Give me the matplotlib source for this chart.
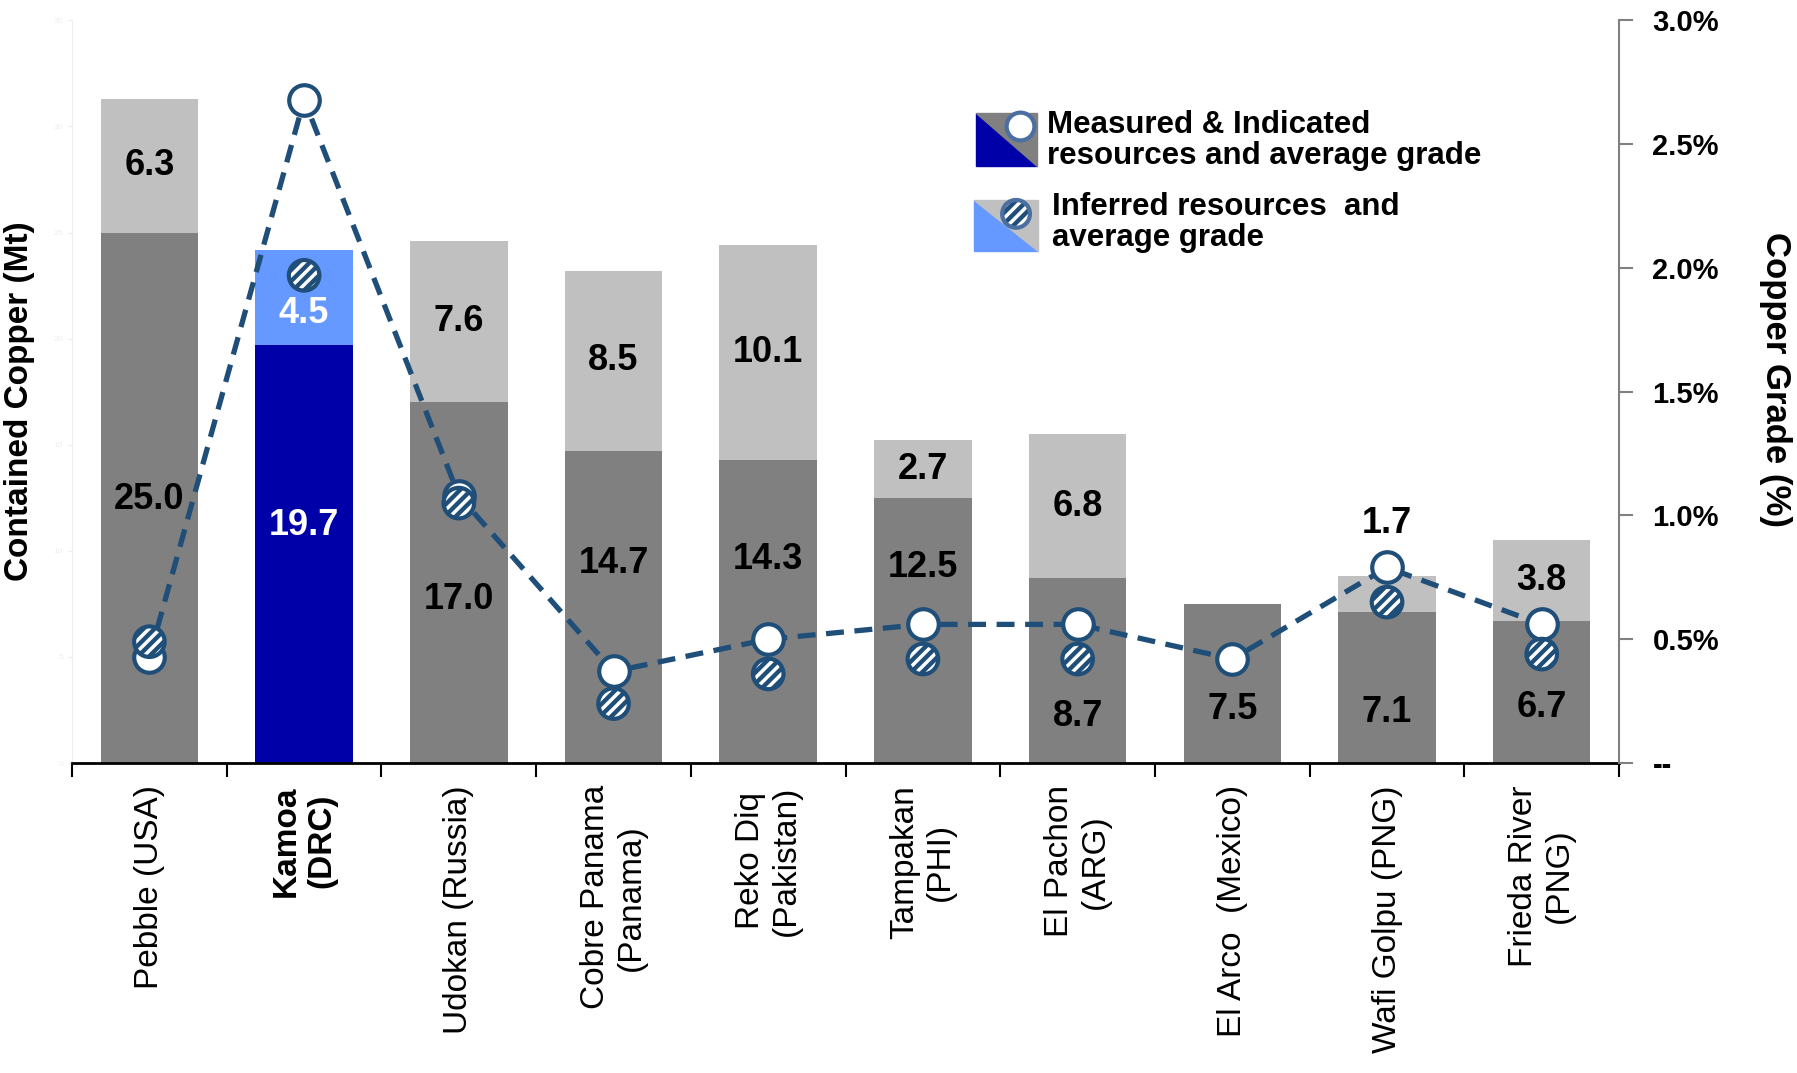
import numpy as np
import matplotlib
matplotlib.use("Agg")
import matplotlib.pyplot as plt
from matplotlib.patches import Polygon

plt.rcParams['font.family'] = ['Liberation Sans', 'DejaVu Sans']
plt.rcParams['hatch.linewidth'] = 2.5
plt.rcParams['hatch.color'] = 'white'

projects = ["Pebble (USA)", "Kamoa\n(DRC)", "Udokan (Russia)", "Cobre Panama\n(Panama)",
            "Reko Diq\n(Pakistan)", "Tampakan\n(PHI)", "El Pachon\n(ARG)", "El Arco  (Mexico)",
            "Wafi Golpu (PNG)", "Frieda River\n(PNG)"]
mi_copper = [25.0, 19.7, 17.0, 14.7, 14.3, 12.5, 8.7, 7.5, 7.1, 6.7]
inf_copper = [6.3, 4.5, 7.6, 8.5, 10.1, 2.7, 6.8, 0.0, 1.7, 3.8]
mi_grade = [0.43, 2.68, 1.08, 0.37, 0.50, 0.56, 0.56, 0.42, 0.79, 0.56]
inf_grade = [0.49, 1.97, 1.05, 0.24, 0.36, 0.42, 0.42, np.nan, 0.65, 0.44]

copper_ticks = [0, 5, 10, 15, 20, 25, 30, 35]
grade_ticks = [0.0, 0.5, 1.0, 1.5, 2.0, 2.5, 3.0]
grade_tick_labels = ["--", "0.5%", "1.0%", "1.5%", "2.0%", "2.5%", "3.0%"]

# label heights (Mt) placed by hand in the slide so they dodge the markers
mi_label_y = [12.4, 11.2, 7.7, 9.4, 9.6, 9.2, 2.2, 2.5, 2.4, 2.6]
inf_label_y = [28.15, 21.2, 20.8, 18.95, 19.35, 13.85, 12.1, None, 11.3, 8.6]

GRAY_D = '#808080'
GRAY_L = '#C0C0C0'
BLUE_D = '#0000A8'
BLUE_L = '#6699FF'
LINE = '#1F4E79'
HL = 1  # Kamoa highlighted

fig = plt.figure(figsize=(17.97, 10.73), dpi=100)
ax = fig.add_axes([0.0401, 0.2889, 0.8609, 0.6921])

x = np.arange(len(projects))
dark_cols = [BLUE_D if i == HL else GRAY_D for i in x]
light_cols = [BLUE_L if i == HL else GRAY_L for i in x]
ax.bar(x, mi_copper, width=0.63, color=dark_cols, zorder=1)
ax.bar(x, inf_copper, bottom=mi_copper, width=0.63, color=light_cols, zorder=1)
ax.set_xlim(-0.5, len(projects) - 0.5)
ax.set_ylim(0, 35)

for i in x:
    col = 'white' if i == HL else 'black'
    ax.text(i, mi_label_y[i], f"{mi_copper[i]:.1f}", ha='center', va='center',
            fontsize=26, fontweight='bold', color=col, zorder=2)
    if inf_copper[i] > 0:
        ax.text(i, inf_label_y[i], f"{inf_copper[i]:.1f}", ha='center', va='center',
                fontsize=26, fontweight='bold', color=col, zorder=2)

# axes cosmetics
ax.spines['top'].set_visible(False)
ax.spines['right'].set_visible(False)
ax.spines['left'].set_color('#EEEEEE')
ax.spines['bottom'].set_color('black')
ax.spines['bottom'].set_linewidth(2)
ax.set_yticks(copper_ticks)
ax.tick_params(axis='y', colors='#EEEEEE', labelsize=6, length=3)
ax.set_xticks(x, projects)
ax.set_xticks(np.arange(-0.5, len(projects), 1), minor=True)
ax.tick_params(axis='x', which='major', length=0, pad=16, labelsize=24)
ax.tick_params(axis='x', which='minor', length=10, width=1.5, color='black')
plt.setp(ax.get_xticklabels(), rotation=90, ha='center', va='top', multialignment='center')
ax.get_xticklabels()[HL].set_fontweight('bold')

ax.set_ylabel('Contained Copper (Mt)', fontsize=24, fontweight='bold', va='center')
ax.yaxis.set_label_coords(-0.034, 0.4876)

# grade axis
ax2 = ax.twinx()
ax2.set_ylim(0, 3.0)
ax2.plot(x, mi_grade, color=LINE, lw=3.8, dashes=(3.4, 2.0), marker='o', ms=22,
         mfc='white', mec=LINE, mew=3, zorder=3)
ax2.scatter(x, inf_grade, s=22 ** 2, facecolor=LINE, edgecolor='white', hatch='///',
            linewidths=0, zorder=4)
ax2.scatter(x, inf_grade, s=22 ** 2, facecolor='none', edgecolor=LINE, linewidths=3, zorder=5)

for side in ['left', 'top', 'bottom']:
    ax2.spines[side].set_visible(False)
ax2.spines['right'].set_color(GRAY_D)
ax2.spines['right'].set_linewidth(1.5)
ax2.set_yticks(grade_ticks, grade_tick_labels, fontsize=21, fontweight='bold')
ax2.tick_params(axis='y', color=GRAY_D, length=10, width=1.5, pad=14)
ax2.set_ylabel('Copper Grade (%)', fontsize=25, fontweight='bold', rotation=270, va='center')
ax2.yaxis.set_label_coords(1.1009, 0.516)

# hand made legend
def legend_box(x0, y0, x1, y1, c_low, c_high):
    ax.add_patch(Polygon([(x0, y1), (x0, y0), (x1, y0)], closed=True, color=c_low,
                         transform=ax.transAxes, clip_on=False, zorder=6))
    ax.add_patch(Polygon([(x0, y1), (x1, y1), (x1, y0)], closed=True, color=c_high,
                         transform=ax.transAxes, clip_on=False, zorder=6))

legend_box(0.5844, 0.804, 0.6238, 0.8755, BLUE_D, GRAY_D)
legend_box(0.5830, 0.6897, 0.6244, 0.7584, BLUE_L, GRAY_L)
ax.plot([0.6128], [0.858], 'o', ms=20, mfc='white', mec='#4A6FA0', mew=3,
        transform=ax.transAxes, clip_on=False, zorder=7)
ax.scatter([0.6102], [0.7395], s=20 ** 2, facecolor=LINE, edgecolor='white', hatch='///',
           linewidths=0, transform=ax.transAxes, clip_on=False, zorder=7)
ax.scatter([0.6102], [0.7395], s=20 ** 2, facecolor='none', edgecolor='#4A6FA0', linewidths=3,
           transform=ax.transAxes, clip_on=False, zorder=8)
ax.text(0.6303, 0.8378, "Measured & Indicated\nresources and average grade", transform=ax.transAxes,
        fontsize=22.5, fontweight='bold', va='center', ha='left', linespacing=1.05)
ax.text(0.6335, 0.7274, "Inferred resources  and\naverage grade", transform=ax.transAxes,
        fontsize=22.5, fontweight='bold', va='center', ha='left', linespacing=1.05)

fig.savefig("out.png", dpi=100)
